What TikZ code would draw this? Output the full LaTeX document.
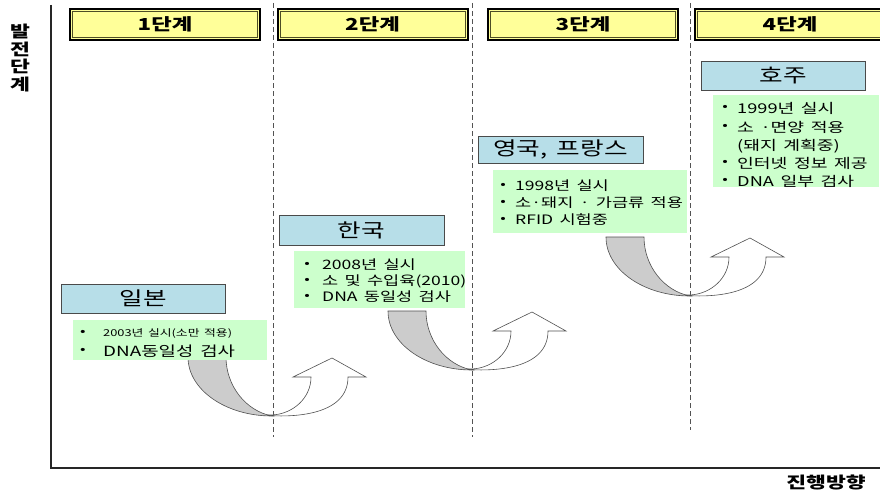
\documentclass[tikz,border=0pt]{standalone}
\usepackage{fontspec}
\setmainfont{Noto Sans CJK KR}[FakeStretch=1.35, WordSpace=1.6]
\definecolor{hdryellow}{HTML}{FFFF99}
\definecolor{hdrolive}{HTML}{4D4D26}
\definecolor{ctyblue}{HTML}{B7DEE8}
\definecolor{ctyborder}{HTML}{4A4A4A}
\definecolor{grnfill}{HTML}{CCFFCC}
\definecolor{bandgray}{HTML}{CCCCCC}
\definecolor{bandline}{HTML}{505050}
\tikzset{
  hdr/.style={draw=black, line width=2pt, fill=hdryellow, minimum width=190pt, minimum height=31pt, inner sep=0pt, font=\fontsize{16.5}{19}\selectfont\bfseries},
  hdrin/.style={draw=hdrolive, line width=0.8pt},
  cty/.style={draw=ctyborder, line width=1pt, fill=ctyblue, inner sep=0pt, font=\fontsize{19}{21}\selectfont},
  grn/.style={fill=grnfill, inner sep=0pt},
  itm/.style={inner sep=0pt, anchor=west},
  bul/.style={inner sep=0pt, font=\fontsize{12}{14}\selectfont},
  axisline/.style={line width=2.5pt, black!85},
  stageline/.style={draw=gray!65!black, line width=0.7pt, dash pattern=on 5pt off 3pt},
  axislabel/.style={inner sep=0pt, font=\fontsize{16}{17.5}\selectfont\bfseries, align=center},
  uarrow/.pic={
    \filldraw[fill=white, draw=bandline, line width=0.6pt]
      (-10,1) .. controls (20,4) and (76,2) .. (76,-37) -- (94,-37) -- (60,-56) -- (21,-37) -- (39,-37)
      .. controls (39,-16) and (21,0) .. (0,1) -- cycle;
    \filldraw[fill=bandgray, draw=bandline, line width=0.6pt]
      (-84,-57) .. controls (-84,-24) and (-46,2) .. (0,2)
      .. controls (-26,-3) and (-46,-28) .. (-46,-57) -- cycle;
  }
}
\newcommand\bitem[5]{\node[bul] (#1b) at (#2,#4) {•}; \node[itm] (#1) at (#3,#4) {#5};}
\begin{document}
\begin{tikzpicture}[x=1pt, y=-1pt]
\clip (0,0) rectangle (880,495);
\fill[white] (0,0) rectangle (880,495);

% axes
\coordinate (ytop) at (51,5);
\coordinate (origin) at (51,468);
\coordinate (xend) at (880,468);
\draw[axisline] (ytop) -- (origin) -- (xend);
\node[axislabel] (ylab) at (20,58) {발\\전\\단\\계};
\node[axislabel] (xlab) at (826,482) {진행방향};

% stage separators
\coordinate (s1t) at (273,3);  \coordinate (s1b) at (273,437);
\coordinate (s2t) at (472,3);  \coordinate (s2b) at (472,437);
\coordinate (s3t) at (690,3);  \coordinate (s3b) at (690,430);
\draw[stageline] (s1t) -- (s1b);
\draw[stageline] (s2t) -- (s2b);
\draw[stageline] (s3t) -- (s3b);

% curved arrows
\pic at (272,414) {uarrow};
\pic at (472,368) {uarrow};
\pic at (690,294) {uarrow};

% headers
\node[hdr] (h1) at (165,24.5) {1단계};
\node[hdr] (h2) at (372.5,24.5) {2단계};
\node[hdr] (h3) at (583,24.5) {3단계};
\node[hdr] (h4) at (790,24.5) {4단계};
\foreach \h in {h1,h2,h3,h4}
  \draw[hdrin] ([shift={(3.5,3.5)}]\h.north west) rectangle ([shift={(-3.5,-3.5)}]\h.south east);

% Japan
\node[grn, minimum width=194pt, minimum height=40pt] (jpg) at (170,340) {};
\node[cty, minimum width=164pt, minimum height=29pt] (jp) at (143,298.5) {일본};
\bitem{jp1}{83}{103}{333}{\fontsize{9.5}{11}\selectfont 2003년 실시(소만 적용)}
\bitem{jp2}{83}{103}{351}{\fontsize{14}{16}\selectfont DNA동일성 검사}

% Korea
\node[grn, minimum width=171pt, minimum height=57pt] (krg) at (379.5,279.5) {};
\node[cty, minimum width=165pt, minimum height=30pt] (kr) at (361.5,230) {한국};
\begin{scope}[font=\fontsize{13}{15}\selectfont]
\bitem{kr1}{307}{322}{265}{2008년 실시}
\bitem{kr2}{307}{322}{281}{소 및 수입육(2010)}
\bitem{kr3}{307}{322}{297}{DNA 동일성 검사}
\end{scope}

% UK, France
\node[grn, minimum width=194pt, minimum height=63pt] (ukg) at (590,201.5) {};
\node[cty, minimum width=165pt, minimum height=27pt] (uk) at (560.5,149.5) {영국, 프랑스};
\begin{scope}[font=\fontsize{13}{15}\selectfont]
\bitem{uk1}{503}{515}{186}{1998년 실시}
\bitem{uk2}{503}{515}{203}{소·돼지 · 가금류 적용}
\bitem{uk3}{503}{515}{220}{RFID 시험중}
\end{scope}

% Australia
\node[grn, minimum width=166pt, minimum height=92pt] (aug) at (796,141) {};
\node[cty, minimum width=164pt, minimum height=28pt] (au) at (783,76) {호주};
\begin{scope}[font=\fontsize{13.5}{15}\selectfont]
\bitem{au1}{725}{737}{108}{1999년 실시}
\bitem{au2}{725}{737}{127}{소 ·면양 적용}
\node[itm] (au2b2) at (737,146) {(돼지 계획중)};
\bitem{au3}{725}{737}{163}{인터넷 정보 제공}
\bitem{au4}{725}{737}{181}{DNA 일부 검사}
\end{scope}
\end{tikzpicture}
\end{document}
